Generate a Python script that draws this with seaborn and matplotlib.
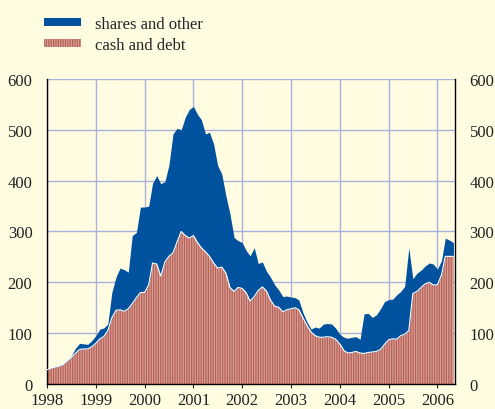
import numpy as np
import pandas as pd
import matplotlib
matplotlib.use("Agg")
import matplotlib.pyplot as plt
import matplotlib.dates as mdates
from matplotlib.patches import Patch
import seaborn as sns

# ==========================================
# DATA (monthly, Jan 1998 - May 2006)
# ==========================================

START_MONTH = "1998-01-01"

# cash and debt financed part
cash_and_debt = [
    28, 31, 33, 35, 38, 45, 52, 60, 68, 69, 69, 73,            # 1998
    80, 89, 93, 105, 130, 145, 146, 143, 148, 158, 170, 180,   # 1999
    180, 195, 238, 236, 212, 240, 251, 258, 280, 300, 292, 287,  # 2000
    292, 278, 268, 260, 251, 238, 228, 230, 218, 190, 182, 190,  # 2001
    188, 179, 163, 172, 184, 191, 183, 165, 153, 151, 142, 146,  # 2002
    148, 150, 146, 130, 115, 102, 95, 92, 92, 93, 92, 88,        # 2003
    79, 66, 61, 62, 64, 61, 60, 62, 63, 64, 68, 78,              # 2004
    87, 89, 88, 95, 98, 105, 178, 182, 190, 197, 200, 195,       # 2005
    195, 215, 251, 251, 251,                                     # 2006
]

# total = cash and debt + shares and other
total = [
    29, 32, 35, 37, 40, 47, 55, 70, 80, 79, 78, 85,
    95, 108, 110, 118, 180, 210, 228, 225, 220, 292, 298, 348,
    348, 350, 395, 410, 394, 398, 430, 492, 503, 500, 525, 540,
    546, 530, 520, 492, 495, 472, 430, 413, 370, 335, 288, 282,
    278, 262, 252, 268, 237, 240, 222, 210, 195, 185, 172, 173,
    171, 170, 165, 140, 122, 108, 112, 110, 118, 119, 118, 110,
    98, 92, 90, 92, 93, 88, 138, 139, 131, 136, 148, 162,
    166, 167, 175, 182, 192, 268, 207, 218, 224, 232, 238, 236,
    226, 243, 287, 283, 278,
]

series_labels = ["shares and other", "cash and debt"]
y_ticks = [0, 100, 200, 300, 400, 500, 600]

# ==========================================
# STYLE
# ==========================================

BG = "#fffce1"
BLUE = "#00529f"
RED_FACE = "#dca093"
RED_LINE = "#b4625b"
GRID = "#a9b1de"
FS = 12

sns.set_style("white", rc={"axes.facecolor": BG, "figure.facecolor": BG})
plt.rcParams['font.family'] = ['Liberation Serif', 'DejaVu Serif']
plt.rcParams['hatch.color'] = RED_LINE
plt.rcParams['hatch.linewidth'] = 0.9

df = pd.DataFrame({
    "date": pd.date_range(START_MONTH, periods=len(total), freq="MS"),
    "cash": cash_and_debt,
    "total": total,
})

fig, ax = plt.subplots(figsize=(4.95, 4.10), dpi=100)
fig.subplots_adjust(left=0.095, right=0.919, bottom=0.061, top=0.805)

ax.fill_between(df["date"], 0, df["cash"], facecolor=RED_FACE,
                edgecolor=RED_LINE, hatch='|' * 7, linewidth=0, zorder=2)
ax.fill_between(df["date"], df["cash"], df["total"], facecolor=BLUE,
                linewidth=0, zorder=2)
sns.lineplot(data=df, x="date", y="cash", color="white", lw=0.8, ax=ax, zorder=3)

ax.set_xlim(pd.Timestamp("1998-01-01"), pd.Timestamp("2006-05-12"))
ax.set_ylim(0, 600)
ax.set_yticks(y_ticks)
ax.xaxis.set_major_locator(mdates.YearLocator())
ax.xaxis.set_major_formatter(mdates.DateFormatter("%Y"))

ax.grid(True, color=GRID, lw=1, zorder=0)
ax.set_axisbelow(True)

for side in ["left", "right", "bottom"]:
    ax.spines[side].set_visible(True)
    ax.spines[side].set_color("black")
    ax.spines[side].set_linewidth(1)
ax.spines["top"].set_visible(False)

ax.tick_params(axis="y", left=False, right=False, labelleft=True,
               labelright=True, pad=7, labelsize=FS, colors="#222222")
ax.tick_params(axis="x", bottom=True, direction="out", length=3,
               pad=3, labelsize=FS, colors="#222222")
ax.set_xlabel("")
ax.set_ylabel("")

handles = [
    Patch(facecolor=BLUE, linewidth=0),
    Patch(facecolor=RED_FACE, edgecolor=RED_LINE, hatch='|' * 7, linewidth=0),
]
fig.legend(handles, series_labels, loc="upper left",
           bbox_to_anchor=(0.089, 0.958), frameon=False, fontsize=FS,
           handlelength=2.2, handleheight=0.32, handletextpad=0.85,
           labelspacing=0.3, borderpad=0, borderaxespad=0)

fig.savefig("out.png", dpi=100, facecolor=BG)
